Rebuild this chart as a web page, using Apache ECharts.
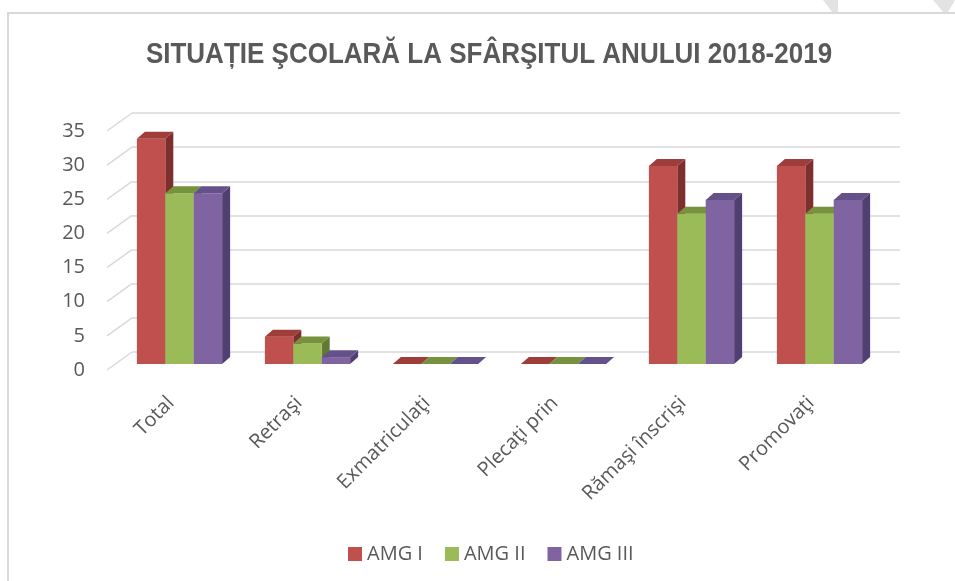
<!DOCTYPE html>
<html>
<head>
<meta charset="utf-8">
<title>Situație școlară 2018-2019</title>
<script src="https://cdn.jsdelivr.net/npm/echarts@6/dist/echarts.min.js"></script>
<style>
  html, body { margin: 0; padding: 0; background: #fff; }
  #chart { width: 955px; height: 581px; }
</style>
</head>
<body>
<div id="chart"></div>
<script>
// date
const categories = ['Total', 'Retraşi', 'Exmatriculaţi', 'Plecaţi prin', 'Rămaşi înscrişi', 'Promovaţi'];
const seriesNames = ['AMG I', 'AMG II', 'AMG III'];
const amg1 = [33, 4, 0, 0, 29, 29];
const amg2 = [25, 3, 0, 0, 22, 22];
const amg3 = [25, 1, 0, 0, 24, 24];
const yTicks = [0, 5, 10, 15, 20, 25, 30, 35];

// culori fata / capac / lateral
const faceColors = ['#C0504D', '#9BBB59', '#8064A2'];
const topColors = ['#9E3D3A', '#77923D', '#65518A'];
const sideColors = ['#7E2F2D', '#617A31', '#503F70'];

// perspectiva (pseudo 3D)
const WALL_DX = 25, WALL_DY = -18;   // adancimea peretilor
const BAR_DX = 8.5, BAR_DY = -6;     // planul fetei barelor
const DEPTH_DX = 8, DEPTH_DY = -7;   // grosimea barei
const BAR_FRAC = 0.222;

const FONT = '"Open Sans", "Liberation Sans", sans-serif';
const TXT = '#595959';

const chart = echarts.init(document.getElementById('chart'));

function barRenderer(idx) {
    return function (params, api) {
        const cat = api.value(0);
        const val = api.value(1);
        const base = api.coord([cat, 0]);
        const top = api.coord([cat, val]);
        const band = api.size([1, 0])[0];
        const w = band * BAR_FRAC;
        const x0 = base[0] + BAR_DX - 1.5 * w + idx * w;
        const x1 = x0 + w;
        const yB = base[1] + BAR_DY;
        const yT = top[1] + BAR_DY;
        return {
            type: 'group',
            children: [
                {
                    type: 'polygon',
                    shape: { points: [[x1, yT], [x1 + DEPTH_DX, yT + DEPTH_DY], [x1 + DEPTH_DX, yB + DEPTH_DY], [x1, yB]] },
                    style: { fill: sideColors[idx] }
                },
                {
                    type: 'rect',
                    shape: { x: x0, y: yT, width: w, height: yB - yT },
                    style: { fill: faceColors[idx] }
                },
                {
                    type: 'polygon',
                    shape: { points: [[x0, yT], [x0 + DEPTH_DX, yT + DEPTH_DY], [x1 + DEPTH_DX, yT + DEPTH_DY], [x1, yT]] },
                    style: { fill: topColors[idx] }
                }
            ]
        };
    };
}

const values = [amg1, amg2, amg3];
const barSeries = seriesNames.map((name, i) => ({
    name: name,
    type: 'custom',
    xAxisIndex: 0,
    yAxisIndex: 0,
    itemStyle: { color: faceColors[i] },
    renderItem: barRenderer(i),
    encode: { x: 0, y: 1 },
    data: values[i].map((v, k) => [k, v]),
    z: 3
}));

const option = {
    animation: false,
    textStyle: { fontFamily: FONT },
    grid: [
        { left: 107, top: 131, width: 768, height: 239 },
        { left: 107 + WALL_DX, top: 131 + WALL_DY, width: 768, height: 239 }
    ],
    xAxis: [
        {
            type: 'category', gridIndex: 0, data: categories,
            axisLine: { show: false }, axisTick: { show: false },
            axisLabel: { rotate: 45, margin: 30, color: TXT, fontSize: 20, fontFamily: FONT, interval: 0 }
        },
        { type: 'category', gridIndex: 1, data: categories, show: false }
    ],
    yAxis: [
        {
            type: 'value', gridIndex: 0, min: 0, max: 35, interval: 5,
            axisLine: { show: false }, axisTick: { show: false }, splitLine: { show: false },
            axisLabel: { margin: 22, color: TXT, fontSize: 20, fontFamily: FONT }
        },
        {
            type: 'value', gridIndex: 1, min: 0, max: 35, interval: 5,
            axisLine: { show: false }, axisTick: { show: false }, axisLabel: { show: false },
            splitLine: { show: true, lineStyle: { color: '#d9d9d9', width: 1.5 } }
        }
    ],
    legend: {
        data: seriesNames,
        left: 343,
        top: 539,
        icon: 'rect',
        itemWidth: 14,
        itemHeight: 14,
        itemGap: 22,
        textStyle: { color: TXT, fontSize: 20, fontFamily: FONT }
    },
    graphic: [
        {
            type: 'polyline',
            shape: { points: [[8, 581], [8, 13], [955, 13]] },
            style: { stroke: '#d9d9d9', lineWidth: 2, fill: null }
        },
        {
            type: 'polygon',
            shape: { points: [[823, 0], [838, 0], [838, 12], [832, 12]] },
            style: { fill: '#e3e3e3' }
        },
        {
            type: 'polygon',
            shape: { points: [[933, 0], [955, 0], [948, 12], [943, 12]] },
            style: { fill: '#e3e3e3' }
        },
        {
            type: 'text',
            x: 489,
            y: 55,
            scaleY: 1.15,
            style: {
                text: 'SITUAȚIE ŞCOLARĂ LA SFÂRŞITUL ANULUI 2018-2019',
                fill: TXT,
                font: 'bold 26px "Liberation Sans", sans-serif',
                textAlign: 'center',
                textVerticalAlign: 'middle'
            }
        }
    ],
    series: [
        {
            // liniile diagonale de pe peretele lateral
            type: 'custom',
            xAxisIndex: 0,
            yAxisIndex: 0,
            silent: true,
            z: 1,
            renderItem: function (params, api) {
                const p = api.coord([0, api.value(0)]);
                const x = params.coordSys.x;
                return {
                    type: 'line',
                    shape: { x1: x, y1: p[1], x2: x + WALL_DX, y2: p[1] + WALL_DY },
                    style: { stroke: '#d9d9d9', lineWidth: 1.5 }
                };
            },
            encode: { y: 0 },
            data: yTicks.map(v => [v])
        }
    ].concat(barSeries)
};

chart.setOption(option);
</script>
</body>
</html>
